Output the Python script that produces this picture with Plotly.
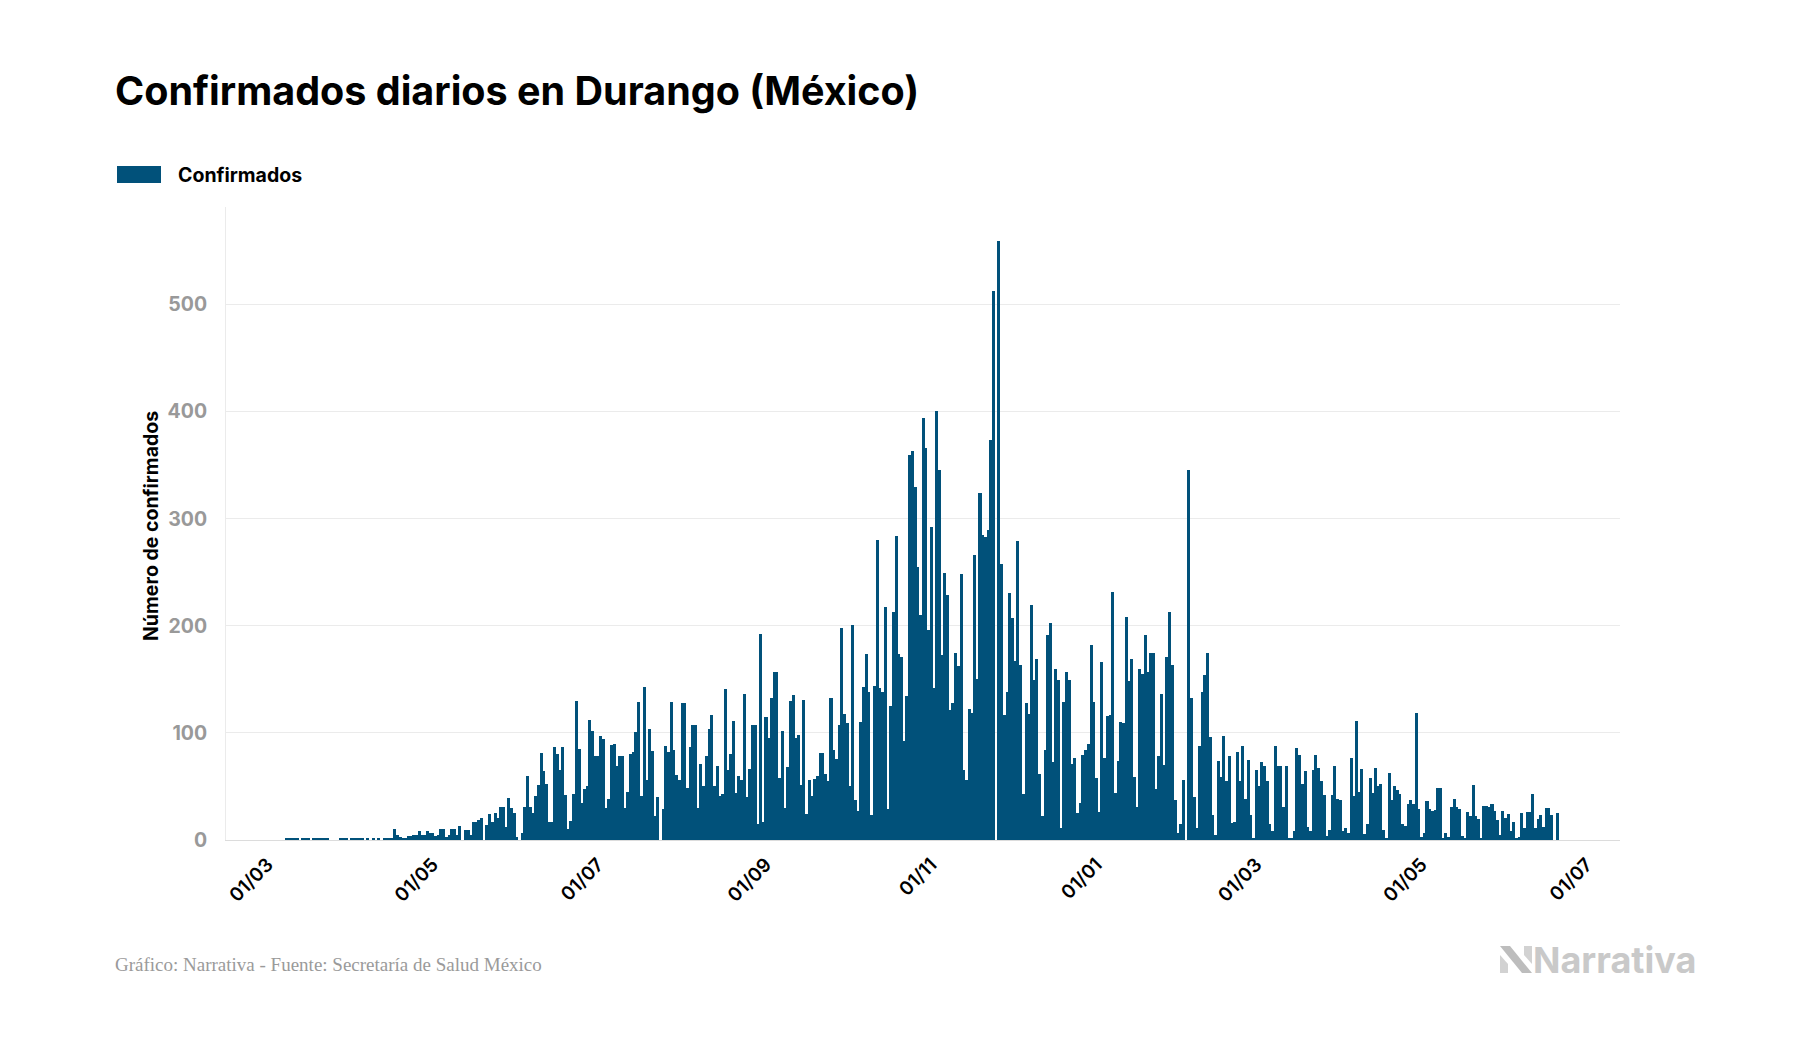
import plotly.graph_objects as go
import pandas as pd

# ---- data (daily confirmed cases, Durango) ----
START_DATE = "2020-03-08"
vals_mar_may_2020 = [1,1,1,1,1, 0, 1,1,1, 0, 1,1,1,1,1,1, 0,0,0,0, 2,2,2, 0, 1,1,1,1,
                     1,0,1,0,1,0,1,0, 2,2,2, 1, 10, 5,3, 1,2, 4,4, 5,5, 8,5, 5, 8,7,7, 4, 5, 10,10]
vals_may_jul_2020 = [3,5,10,10,5,13,0,9,9,5,17,17,19,21,0,14,24,17,25,21,31,31,12,39,30,25,3,0,7,
                     31,60,31,25,41,51,81,64,52,17,17,87,80,65,87,42,10,18,43,130,85,35,48,50,112,
                     102,78,78,97,94]
vals_jul_sep_2020 = [30,38,89,90,69,78,78,30,45,80,82,101,129,41,143,56,104,83,22,40,
                     0,29,88,82,129,84,61,56,128,128,49,87,107,107,30,71,50,78,104,117,
                     50,69,41,43,141,65,80,111,44,60,56,136,40,66,107,107,15,192,17,115,
                     95,133,157,157,58,102,30,68,130,135,95,98]
vals_sep_oct_2020 = [51,131,24,56,41,57,60,81,81,62,55,133,84,76,107,198,118,109,50,201,37,27,
                     110,143,174,138,23,144,280,142,138,218,29,125,213,284,174,171,92,134,359,
                     363,330,255,210,394,366,196,292,142,401,345,173,249,229]
vals_nov_dec_2020 = [121,128,175,162,248,65,56,122,119,266,150,324,285,283,289,373,513,0,559,258,
                     117,138,231,207,167,279,163,43,128,118,219,149,169,62,22,84,191,203,73,160,
                     149,11,129,157,149,71,77,25,35,79,84,90,182,129,58,26]
vals_jan_feb_2021 = [166,77,116,117,232,44,74,110,109,208,148,169,59,31,160,155,191,157,175,175,
                     48,78,136,70,171,213,163,37,7,15,56,0,345,133,40,11,88,138,154,175,
                     96,23,5,74,59,97,55,78,16,17,82,55,88,38,75,23]
vals_feb_apr_2021 = [2,65,50,73,69,55,15,8,88,69,69,31,69,2,2,8,86,79,52,64,12,8,65,79,67,55,42,
                     4,9,42,69,38,37,8,11,7,77,41,111,45,66,6,15,58,44,67,50,52,9,2,63,37,50,47,
                     43,15,13,34,37]
vals_apr_jun_2021 = [34,119,29,3,7,36,29,27,28,49,49,2,7,3,31,38,31,29,4,2,26,22,51,22,20,2,32,32,
                     31,34,27,19,5,27,21,24,8,17,2,3,25,11,26,26,43,11,20,23,12,30,30,23,0,25]

values = (vals_mar_may_2020 + vals_may_jul_2020 + vals_jul_sep_2020 + vals_sep_oct_2020 +
          vals_nov_dec_2020 + vals_jan_feb_2021 + vals_feb_apr_2021 + vals_apr_jun_2021)
dates = pd.date_range(START_DATE, periods=len(values), freq="D")

tick_dates = pd.date_range("2020-03-01", "2021-07-01", freq="2MS")
tick_labels = [d.strftime("%d/%m") for d in tick_dates]
y_ticks = [0, 100, 200, 300, 400, 500]

TITLE = "Confirmados diarios en Durango (México)"
SERIES = "Confirmados"
Y_TITLE = "Número de confirmados"
SOURCE = "Gráfico: Narrativa - Fuente: Secretaría de Salud México"
BAR_COLOR = "#01517a"
DAY_MS = 86400000

# ---- layout geometry (page pixels; the page body adds an 8px margin) ----
OFF = 8
FIG_W, FIG_H = 1784, 1034
L, R, T, B = 226 - OFF, 1620 - OFF, 207 - OFF, 840 - OFF
PW, PH = R - L, B - T

def px(x):
    return (x - OFF - L) / PW

def py(y):
    return (B - (y - OFF)) / PH

fig = go.Figure()
fig.add_trace(go.Bar(
    x=dates, y=values, name=SERIES,
    width=[DAY_MS * 1.12] * len(values),
    marker=dict(color=BAR_COLOR, line=dict(width=0)),
    showlegend=False,
))

fig.update_layout(
    width=FIG_W, height=FIG_H,
    margin=dict(l=L, r=FIG_W - R, t=T, b=FIG_H - B, autoexpand=False),
    paper_bgcolor="white", plot_bgcolor="white",
    bargap=0,
    font=dict(family="Inter", color="#000"),
)

fig.update_xaxes(
    type="date",
    range=["2020-02-14 16:00", "2021-07-13 06:00"],
    tickvals=tick_dates, ticktext=tick_labels,
    tickangle=-45,
    tickfont=dict(family="Inter", size=19, color="#000", weight=600),
    showgrid=False, zeroline=False,
    showline=True, linecolor="#dcdcdc", linewidth=1,
    ticks="", ticklabelstandoff=5,
)
fig.update_yaxes(
    range=[0, 591],
    tickvals=y_ticks,
    tickfont=dict(family="Inter", size=19.5, color="#999999", weight=700),
    showgrid=True, gridcolor="#ebebeb", gridwidth=1,
    zeroline=False,
    showline=True, linecolor="#ebebeb", linewidth=1,
    ticks="", ticklabelstandoff=14,
)

annotations = [
    dict(text=TITLE, x=px(113), y=py(91), xref="paper", yref="paper",
         xanchor="left", yanchor="middle", showarrow=False,
         font=dict(family="Inter", size=39.5, color="#000", weight=700)),
    dict(text=SERIES, x=px(176), y=py(175), xref="paper", yref="paper",
         xanchor="left", yanchor="middle", showarrow=False,
         font=dict(family="Inter", size=19.5, color="#000", weight=700)),
    dict(text=Y_TITLE, x=px(151), y=py(526), xref="paper", yref="paper",
         xanchor="center", yanchor="middle", showarrow=False, textangle=-90,
         font=dict(family="Inter", size=19.5, color="#000", weight=700)),
    dict(text=SOURCE, x=px(113), y=py(964), xref="paper", yref="paper",
         xanchor="left", yanchor="middle", showarrow=False,
         font=dict(family="Liberation Serif", size=19, color="#9a9a9a")),
    dict(text="Narrativa", x=px(1531), y=py(960), xref="paper", yref="paper",
         xanchor="left", yanchor="middle", showarrow=False,
         font=dict(family="Inter", size=36, color="#c9c9c9", weight=700)),
]
fig.update_layout(annotations=annotations)

def path(points):
    return "M" + " L".join(f"{px(a):.5f},{py(b):.5f}" for a, b in points) + " Z"

shapes = [
    dict(type="rect", xref="paper", yref="paper",
         x0=px(117), x1=px(161), y0=py(183), y1=py(166),
         fillcolor=BAR_COLOR, line=dict(width=0)),
    dict(type="path", xref="paper", yref="paper",
         path=path([(1500, 946), (1510, 946), (1532, 973), (1522, 973)]),
         fillcolor="#bdbdbd", line=dict(width=0)),
    dict(type="path", xref="paper", yref="paper",
         path=path([(1500, 955), (1508, 964), (1508, 973), (1500, 973)]),
         fillcolor="#d2d2d2", line=dict(width=0)),
    dict(type="path", xref="paper", yref="paper",
         path=path([(1524, 946), (1532, 946), (1532, 964), (1524, 955)]),
         fillcolor="#d2d2d2", line=dict(width=0)),
]
fig.update_layout(shapes=shapes)

fig.write_html("out.html")
